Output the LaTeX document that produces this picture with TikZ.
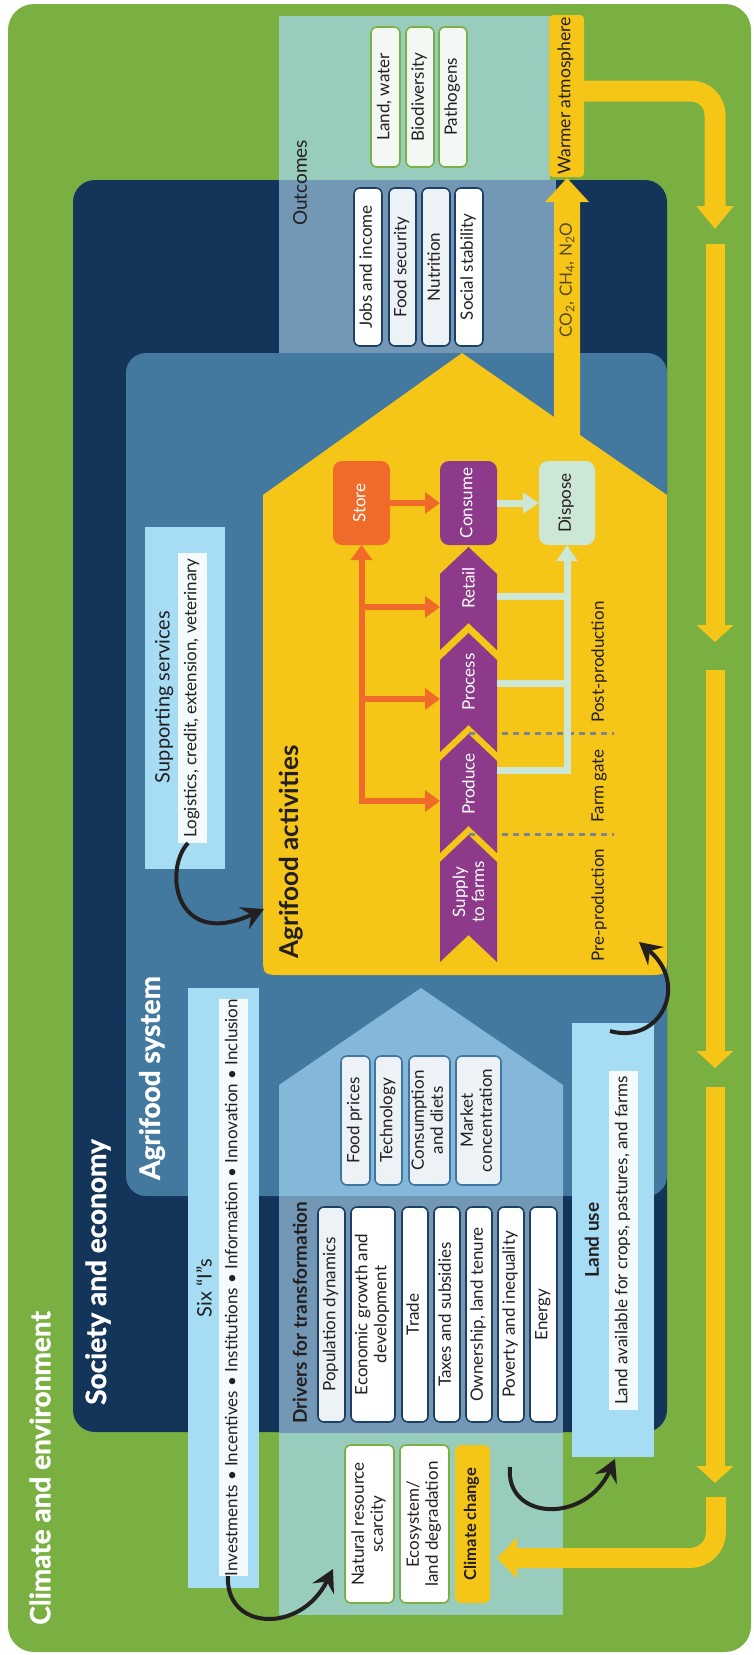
\documentclass[tikz,border=0pt]{standalone}
\usepackage{fontspec}
\setmainfont{Lato}
\newfontfamily\heavyfont{Lato}[FakeBold=1.3]
\usepackage{graphicx}
\usetikzlibrary{arrows.meta}
\definecolor{cgreen}{HTML}{7AAF41}
\definecolor{cnavy}{HTML}{14355A}
\definecolor{cteal}{HTML}{98CDBE}
\definecolor{cgrey}{HTML}{7298B5}
\definecolor{csys}{HTML}{43799F}
\definecolor{chouse}{HTML}{84B7D8}
\definecolor{clight}{HTML}{A6DDF5}
\definecolor{cpale}{HTML}{F5FAFD}
\definecolor{cgfill}{HTML}{F3F8F5}
\definecolor{cylw}{HTML}{F5C518}
\definecolor{corange}{HTML}{F06A2A}
\definecolor{cpurple}{HTML}{8E3A8B}
\definecolor{cmint}{HTML}{CDE7D7}
\definecolor{cdash}{HTML}{7F8590}
\definecolor{cborder}{HTML}{1C3F66}
\definecolor{chb}{HTML}{3F76A3}
\definecolor{cboxfill}{HTML}{EDF2F7}
\definecolor{cink}{HTML}{231F20}
\definecolor{cco}{HTML}{5B4A1E}
\newcommand{\vt}[1]{\rotatebox{90}{\begin{tabular}{@{}c@{}}#1\end{tabular}}}
\newcommand{\chevr}[2]{\fill[cpurple] (440,#1+27) -- (468.5,#1) -- (497,#1+27) -- (497,#2) -- (468.5,#2-27) -- (440,#2) -- cycle;}
\begin{document}
\begin{tikzpicture}[x=1pt,y=-1pt,
  every node/.style={inner sep=0pt,outer sep=0pt},
  wh/.style 2 args={minimum width=#1pt,minimum height=#2pt},
  vtxt/.style={rotate=90,text=cink,font=\fontsize{17}{19}\selectfont},
  ttl/.style={rotate=90,text=white,font=\heavyfont\bfseries\fontsize{28}{32}\selectfont},
  boxtxt/.style={text=cink,font=\fontsize{17}{19}\selectfont},
  gbox/.style={boxtxt,draw=cgreen,line width=1.6pt,fill=cgfill,rounded corners=6pt},
  nbox/.style={boxtxt,draw=cborder,line width=1.6pt,fill=white,rounded corners=6pt},
  hbox/.style={boxtxt,draw=chb,line width=1.6pt,fill=cboxfill,rounded corners=6pt},
  yarrow/.style={draw=cylw,line width=19pt,-{Triangle[length=17pt,width=36pt]}},
  barrow/.style={draw=cink,line width=4pt,-{Stealth[length=22pt,width=24pt,inset=8pt]}},
  oline/.style={draw=corange,line width=6pt},
  oarrow/.style={oline,-{Triangle[length=15pt,width=21pt]}},
  pline/.style={draw=cmint,line width=7pt},
  parrow/.style={pline,-{Triangle[length=16pt,width=20pt]}},
  dline/.style={draw=cdash,line width=3pt,dash pattern=on 6pt off 5pt},
]
\useasboundingbox (0,0) rectangle (754,1655);
\fill[white] (0,0) rectangle (754,1655);
% nested regions
\fill[cgreen, rounded corners=26pt] (8,4) rectangle (751,1652);
\fill[cnavy, rounded corners=22pt] (73,180) rectangle (667,1432);
\fill[cteal] (279,16) rectangle (550,180);
\fill[cgrey] (279,180) rectangle (556,353);
\fill[cgrey] (279,1196) rectangle (563,1433);
\fill[cteal] (279,1433) rectangle (563,1615);
\fill[csys, rounded corners=20pt] (126,353) rectangle (667,1196);
% drivers house
\fill[chouse] (279,1196) -- (279,1085) -- (421,988) -- (563,1085) -- (563,1196) -- cycle;
% agrifood activities shape with emissions arrow
\fill[cylw] (263,495) -- (462,353) -- (554,417) -- (554,202) -- (545,202) -- (567,178) -- (589,202) -- (580,202) -- (580,435) -- (667,495) -- (667,955) .. controls (667,975) .. (647,975) -- (283,975) .. controls (263,975) .. (263,955) -- cycle;

% titles
\node[ttl] (tclim) at (40,1468) {Climate and environment};
\node[ttl] (tsoc) at (98,1272) {Society and economy};
\node[ttl] (tsys) at (152,1078) {Agrifood system};
\node[vtxt, font=\bfseries\fontsize{26}{30}\selectfont] (tact) at (291,852) {Agrifood activities};
\node[vtxt, font=\fontsize{19}{22}\selectfont] (tout) at (300,183) {Outcomes};
\node[vtxt, font=\bfseries\fontsize{19}{22}\selectfont] (tdrv) at (300,1313) {Drivers for transformation};

% outcomes: environment
\node[gbox, wh={29}{140}] (landw) at (385.5,97) {\vt{Land, water}};
\node[gbox, wh={28}{140}] (biod) at (420,97) {\vt{Biodiversity}};
\node[gbox, wh={28}{140}] (pathog) at (453,97) {\vt{Pathogens}};
% outcomes: society
\node[nbox, wh={28}{158}] (jobs) at (368,267) {\vt{Jobs and income}};
\node[nbox, fill=cboxfill, wh={27}{158}] (foodsec) at (402.5,267) {\vt{Food security}};
\node[nbox, fill=cboxfill, wh={28}{158}] (nutr) at (436,267) {\vt{Nutrition}};
\node[nbox, wh={28}{158}] (social) at (469,267) {\vt{Social stability}};
% warmer atmosphere
\node[fill=cylw, rounded corners=4pt, wh={35}{162}, text=cink, font=\fontsize{17.5}{19}\selectfont] (warm) at (566.5,96) {\vt{Warmer atmosphere}};
\node[vtxt, text=cco, font=\fontsize{17}{19}\selectfont] (ghg) at (567,280) {CO\textsubscript{2}, CH\textsubscript{4}, N\textsubscript{2}O};

% supporting services
\node[fill=clight, wh={80}{342}] (supbox) at (185,698) {};
\node[fill=cpale, wh={29}{290}, boxtxt] (supinner) at (192.5,698) {\vt{Logistics, credit, extension, veterinary}};
\node[vtxt, font=\fontsize{20}{22}\selectfont] (suptitle) at (164,697) {Supporting services};

% six I's
\node[fill=clight, wh={71}{600}] (sixbox) at (223.5,1288) {};
\node[fill=cpale, wh={29}{571}, boxtxt] (sixinner) at (233.5,1287.5) {\vt{Investments • Incentives • Institutions • Information • Innovation • Inclusion}};
\node[vtxt, font=\fontsize{20}{22}\selectfont] (sixtitle) at (204,1288) {Six “I”s};

% land use
\node[fill=clight, wh={82}{434}] (landbox) at (613,1240) {};
\node[fill=cpale, wh={29}{339}, boxtxt] (landinner) at (623.5,1240.5) {\vt{Land available for crops, pastures, and farms}};
\node[vtxt, font=\bfseries\fontsize{19}{22}\selectfont] (landtitle) at (592,1240) {Land use};

% drivers in house
\node[hbox, wh={29}{129}] (fprice) at (355.5,1120.5) {\vt{Food prices}};
\node[hbox, wh={27}{129}] (tech) at (388.5,1120.5) {\vt{Technology}};
\node[hbox, wh={41}{129}] (consd) at (429.5,1120.5) {\vt{Consumption\\and diets}};
\node[hbox, wh={45}{129}] (mconc) at (478.5,1120.5) {\vt{Market\\concentration}};
% drivers in band
\node[nbox, fill=cboxfill, wh={27}{215}] (popd) at (331.5,1314.5) {\vt{Population dynamics}};
\node[nbox, wh={44}{215}] (econ) at (373,1314.5) {\vt{Economic growth and\\development}};
\node[nbox, wh={26}{215}] (trade) at (415,1314.5) {\vt{Trade}};
\node[nbox, wh={26}{215}] (taxes) at (447,1314.5) {\vt{Taxes and subsidies}};
\node[nbox, wh={26}{215}] (owner) at (479,1314.5) {\vt{Ownership, land tenure}};
\node[nbox, wh={26}{215}] (pov) at (511,1314.5) {\vt{Poverty and inequality}};
\node[nbox, wh={27}{215}] (energy) at (543.5,1314.5) {\vt{Energy}};
% environment drivers
\node[gbox, fill=white, wh={49}{158}] (natres) at (369.5,1524) {\vt{Natural resource\\scarcity}};
\node[gbox, fill=white, wh={49}{158}] (ecosys) at (424.5,1524) {\vt{Ecosystem/\\land degradation}};
\node[fill=cylw, rounded corners=6pt, wh={35}{158}, text=cink, font=\bfseries\fontsize{16.5}{18}\selectfont] (climch) at (472.5,1524) {\vt{Climate change}};

% value chain
\draw[dline] (469,733) -- (614,733);
\draw[dline] (469,834) -- (614,834);
\chevr{547}{650}
\chevr{633}{752}
\chevr{734}{853}
\chevr{835}{962}
\node[vtxt, text=white] (retail) at (468.5,588) {Retail};
\node[vtxt, text=white] (process) at (468.5,682) {Process};
\node[vtxt, text=white] (produce) at (468.5,784) {Produce};
\node[vtxt, text=white, align=center] (supply) at (468.5,892) {Supply\\to farms};
\node[fill=corange, rounded corners=9pt, wh={57}{84}, text=white, font=\fontsize{17}{19}\selectfont] (store) at (361.5,503) {\vt{Store}};
\node[fill=cpurple, rounded corners=9pt, wh={57}{84}, text=white, font=\fontsize{17}{19}\selectfont] (consume) at (468.5,503) {\vt{Consume}};
\node[fill=cmint, rounded corners=9pt, wh={56}{84}, boxtxt] (dispose) at (567,503) {\vt{Dispose}};
\node[vtxt] (postp) at (599,662) {Post-production};
\node[vtxt] (fgate) at (599,786) {Farm gate};
\node[vtxt] (prep) at (599,905) {Pre-production};

\coordinate (retailL) at (440,607);
\coordinate (processL) at (440,699);
\coordinate (produceL) at (440,801);
\coordinate (retailR) at (497,596);
\coordinate (processR) at (497,683);
\coordinate (produceR) at (497,770);
\draw[oarrow] (store.east) -- (consume.west);
\draw[parrow] (consume.east) -- (dispose.west);
\draw[oarrow] ([yshift=-3pt]store.south |- produceL) -- (store.south);
\draw[oarrow] (store.south |- retailL) -- (retailL);
\draw[oarrow] (store.south |- processL) -- (processL);
\draw[oarrow] ([xshift=-3pt]store.south |- produceL) -- (produceL);
\draw[pline] (retailR) -- (dispose.south |- retailR);
\draw[pline] (processR) -- (dispose.south |- processR);
\draw[parrow] (produceR) -- (dispose.south |- produceR) -- (dispose.south);

% yellow feedback loop
\coordinate (y1s) at (584,91);
\coordinate (y1e) at (715,229);
\coordinate (y2s) at (715,244);
\coordinate (y2e) at (715,642);
\coordinate (y3s) at (715,670);
\coordinate (y3e) at (715,1068);
\coordinate (y4s) at (715,1087);
\coordinate (y4e) at (715,1483);
\coordinate (y5s) at (716,1497);
\coordinate (y5e) at (497,1558);
\draw[yarrow, line width=21pt, rounded corners=24pt, -{Triangle[length=23pt,width=36pt]}] (y1s) -- (y1e |- y1s) -- (y1e);
\draw[yarrow] (y2s) -- (y2e);
\draw[yarrow] (y3s) -- (y3e);
\draw[yarrow] (y4s) -- (y4e);
\draw[yarrow, line width=20pt, rounded corners=26pt, -{Triangle[length=20pt,width=40pt]}] (y5s) -- (y5s |- y5e) -- (y5e);

% black curved arrows
\coordinate (actin) at (264,909);
\coordinate (actin2) at (639,942);
\coordinate (natin) at (333,1569);
\coordinate (climout) at (510,1467);
\draw[barrow] ([xshift=10pt]supinner.south west) .. controls (163,870) and (175,950) .. (actin);
\draw[barrow] ([xshift=9pt]sixinner.south west) .. controls (225,1630) and (300,1635) .. (natin);
\draw[barrow] (climout) .. controls (505,1520) and (585,1525) .. ([xshift=2pt,yshift=-2pt]landbox.south);
\draw[barrow] ([xshift=-3pt,yshift=-8pt]landbox.north) .. controls (660,1045) and (690,985) .. (actin2);
\end{tikzpicture}
\end{document}
